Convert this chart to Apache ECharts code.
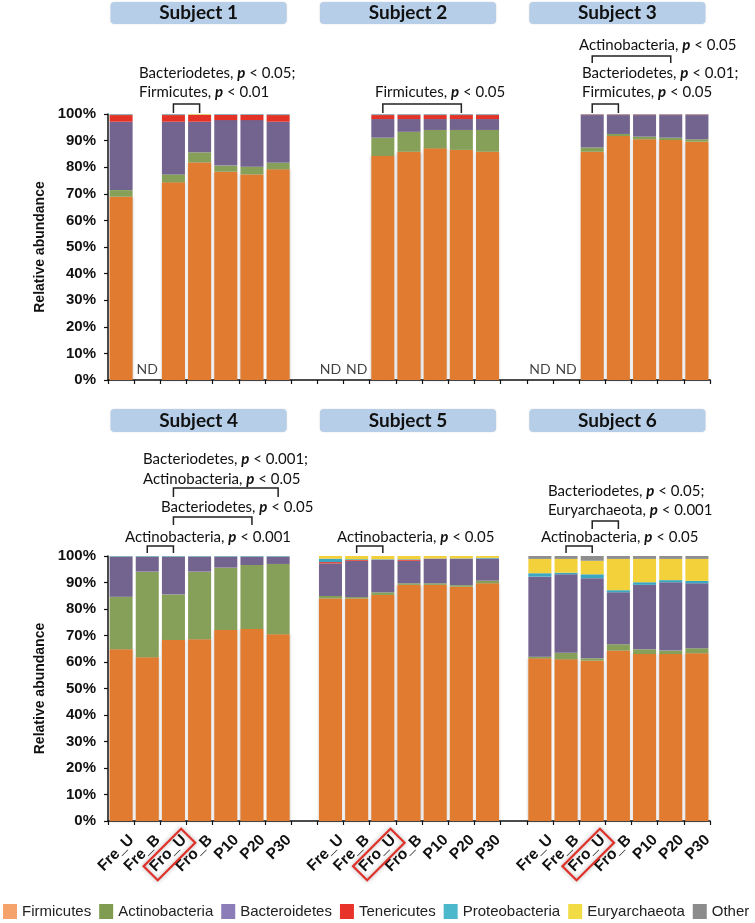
<!DOCTYPE html>
<html><head><meta charset="utf-8">
<script src="https://cdn.jsdelivr.net/npm/echarts@6/dist/echarts.min.js"></script>
<style>html,body{margin:0;padding:0;background:#fff}#c{width:755px;height:923px}</style>
</head><body><div id="c"></div>
<script>
// ---------- DATA ----------
const categories = ['Fre_U','Fre_B','Fro_U','Fro_B','P10','P20','P30','',
                    'Fre_U','Fre_B','Fro_U','Fro_B','P10','P20','P30',' ',
                    'Fre_U','Fre_B','Fro_U','Fro_B','P10','P20','P30'];
const phyla = ['Firmicutes','Actinobacteria','Bacteroidetes','Tenericutes','Proteobacteria','Euryarchaeota','Other'];
const yTickLabels = ['0%','10%','20%','30%','40%','50%','60%','70%','80%','90%','100%'];
const headersTop = ['Subject 1','Subject 2','Subject 3'];
const headersBottom = ['Subject 4','Subject 5','Subject 6'];
const highlightLabel = 'Fro_U';

// Subjects 1-3 (top panel); null = not determined / spacer
const topFirmicutes     = [68.9,null,74.3,81.8,78.3,77.3,79.2, null, null,null,84.2,85.8,87.1,86.5,85.8, null, null,null,85.8,91.7,90.5,90.2,89.6];
const topActinobacteria = [2.5, null,3.0, 3.8, 2.3, 2.9, 2.5,  null, null,null,6.9, 7.5, 6.9, 7.5, 8.2,  null, null,null,1.6, 0.8, 1.0, 0.9, 0.9];
const topBacteroidetes  = [25.7,null,19.8,11.5,17.1,17.5,15.4, null, null,null,7.0, 4.8, 4.1, 4.1, 4.1,  null, null,null,12.2,7.1, 8.1, 8.5, 9.1];
const topTenericutes    = [2.5, null,2.5, 2.6, 2.0, 2.0, 2.5,  null, null,null,1.5, 1.5, 1.5, 1.5, 1.5,  null, null,null,0.2, 0.2, 0.2, 0.2, 0.2];
const topProteobacteria = [0.2, null,0.2, 0.1, 0.2, 0.2, 0.2,  null, null,null,0.2, 0.2, 0.2, 0.2, 0.2,  null, null,null,0.1, 0.1, 0.1, 0.1, 0.1];
const topEuryarchaeota  = [0,   null,0,   0.3, 0,   0,   0,    null, null,null,0,   0,   0,   0,   0,    null, null,null,0,   0,   0,   0,   0];
const topOther          = [0.2, null,0.2, 0,   0.1, 0.1, 0.2,  null, null,null,0.2, 0.2, 0.2, 0.2, 0.2,  null, null,null,0.1, 0.1, 0.1, 0.1, 0.1];
const topND             = ['','ND','','','','','', '', 'ND','ND','','','','','', '', 'ND','ND','','','','',''];

// Subjects 4-6 (bottom panel)
const botFirmicutes     = [64.8,61.8,68.3,68.6,72.1,72.5,70.5, null, 84.0,84.0,85.3,89.1,89.1,88.4,89.7, null, 61.4,61.0,60.5,64.3,63.0,63.0,63.3];
const botActinobacteria = [19.8,32.3,17.2,25.5,23.5,24.1,26.5, null, 0.9, 0.5, 1.0, 0.6, 0.6, 0.6, 1.0,  null, 0.6, 2.5, 0.9, 2.4, 1.8, 1.3, 1.9];
const botBacteroidetes  = [15.1,5.6, 14.2,5.6, 4.1, 3.1, 2.7,  null, 12.3,13.7,12.2,8.5, 9.2, 10.0,8.2,  null, 30.2,29.6,30.2,19.6,24.3,25.8,24.5];
const botTenericutes    = [0,   0,   0,   0,   0,   0,   0,    null, 0.5, 0.3, 0.1, 0.4, 0.1, 0,   0.1,  null, 0,   0,   0,   0,   0,   0,   0];
const botProteobacteria = [0.2, 0.2, 0.2, 0.2, 0.2, 0.2, 0.2,  null, 1.3, 0.3, 0.2, 0.2, 0.1, 0.1, 0.3,  null, 1.3, 0.6, 1.5, 0.8, 1.0, 0.8, 0.9];
const botEuryarchaeota  = [0,   0,   0,   0,   0,   0,   0,    null, 1.0, 1.2, 1.2, 1.2, 0.9, 0.9, 0.7,  null, 5.4, 5.2, 5.1, 11.8,8.8, 8.0, 8.3];
const botOther          = [0.1, 0.1, 0.1, 0.1, 0.1, 0.1, 0.1,  null, 0,   0,   0,   0,   0,   0,   0,    null, 1.1, 1.1, 1.8, 1.1, 1.1, 1.1, 1.1];

// significance annotations
const annotTop = [
  {x:139, y:73, t:'Bacteriodetes, {p|p} < 0.05;'},
  {x:139, y:92, t:'Firmicutes, {p|p} < 0.01'},
  {x:375, y:92, t:'Firmicutes, {p|p} < 0.05'},
  {x:579, y:45, t:'Actinobacteria, {p|p} < 0.05'},
  {x:582, y:73, t:'Bacteriodetes, {p|p} < 0.01;'},
  {x:582, y:92, t:'Firmicutes, {p|p} < 0.05'}
];
const annotBottom = [
  {x:143, y:459, t:'Bacteriodetes, {p|p} < 0.001;'},
  {x:143, y:479, t:'Actinobacteria, {p|p} < 0.05'},
  {x:161, y:507, t:'Bacteriodetes, {p|p} < 0.05'},
  {x:125, y:537, t:'Actinobacteria, {p|p} < 0.001'},
  {x:337, y:537, t:'Actinobacteria, {p|p} < 0.05'},
  {x:548, y:491, t:'Bacteriodetes, {p|p} < 0.05;'},
  {x:548, y:510, t:'Euryarchaeota, {p|p} < 0.001'},
  {x:541, y:537, t:'Actinobacteria, {p|p} < 0.05'}
];
const bracketsTop = [ {a:2,b:3,y1:104,y2:113}, {a:10,b:13,y1:104,y2:113}, {a:18,b:21,y1:56,y2:63}, {a:18,b:19,y1:104,y2:113} ];
const bracketsBottom = [ {a:2,b:6,y1:488,y2:497}, {a:2,b:5,y1:517,y2:525}, {a:1,b:2,y1:546,y2:553},
                         {a:9,b:10,y1:546,y2:553}, {a:18,b:19,y1:521,y2:529}, {a:17,b:18,y1:546,y2:553} ];

// ---------- STYLE ----------
const barColors = ['#E07B2F','#86A05A','#72638F','#E53226','#3BA6C2','#F2D13B','#8E8E8E'];
const legendColors = ['#F5A36B','#7F9C50','#8C7DB8','#E8332A','#4BB8CB','#F2DC45','#8C8C8C'];
const topData = [topFirmicutes, topActinobacteria, topBacteroidetes, topTenericutes, topProteobacteria, topEuryarchaeota, topOther];
const botData = [botFirmicutes, botActinobacteria, botBacteroidetes, botTenericutes, botProteobacteria, botEuryarchaeota, botOther];

const chart = echarts.init(document.getElementById('c'), null, {renderer:'canvas'});
const AX = '#111';
const SANS = 'Liberation Sans, Arial, sans-serif';
function yAxisDef(gi){
  return {
    type:'value', gridIndex:gi, min:0, max:100, interval:10,
    name:'Relative abundance', nameLocation:'middle', nameGap:57,
    nameTextStyle:{fontFamily:SANS, fontWeight:'bold', fontSize:14, color:'#111'},
    axisLine:{show:true, lineStyle:{color:AX, width:1.5}},
    axisTick:{show:true, length:4, lineStyle:{color:AX, width:1.2}},
    splitLine:{show:false},
    axisLabel:{margin:12, color:'#111', fontFamily:SANS, fontWeight:'bold', fontSize:15,
      formatter:(v)=> yTickLabels[Math.round(v/10)]}
  };
}
function xAxisDef(gi, showLabels){
  return {
    type:'category', gridIndex:gi, data:categories,
    axisLine:{show:true, lineStyle:{color:AX, width:1.5}},
    axisTick:{show:true, interval:0, length:4, lineStyle:{color:AX, width:1.2}},
    axisLabel: showLabels ? {show:true, interval:0, rotate:45, margin:6,
      verticalAlign:'top', lineHeight:30,
      color:'#111', fontFamily:SANS, fontWeight:'bold', fontSize:15.5} : {show:false}
  };
}
const series = [];
function barSeries(n, i, gi, data){
  const st = {color:barColors[i]};
  if (i === 0) { st.shadowBlur = 3; st.shadowColor = 'rgba(0,0,0,0.3)'; }
  return {name:n, type:'bar', stack: gi ? 'bot' : 'top', xAxisIndex:gi, yAxisIndex:gi, data,
    barCategoryGap:'12%', itemStyle:st, silent:true, animation:false};
}
phyla.forEach((n,i)=> series.push(barSeries(n, i, 0, topData[i])));
phyla.forEach((n,i)=> series.push(barSeries(n, i, 1, botData[i])));
series.push({name:'ND', type:'scatter', xAxisIndex:0, yAxisIndex:0, symbolSize:1,
  itemStyle:{color:'rgba(0,0,0,0)'}, silent:true, animation:false,
  data: topND.map(s => s ? 0 : '-'),
  label:{show:true, position:'top', distance:3, formatter:(p)=>topND[p.dataIndex],
    fontFamily:'Lato, sans-serif', fontSize:14, color:'#111'}});

const option = {
  backgroundColor:'#fff',
  animation:false,
  grid:[{left:108, top:114, width:602, height:266}, {left:108, top:556, width:602, height:265}],
  xAxis:[xAxisDef(0,false), xAxisDef(1,true)],
  yAxis:[yAxisDef(0), yAxisDef(1)],
  legend:{left:3, top:904, itemWidth:14, itemHeight:15, itemGap:8, icon:'rect', padding:0,
    textStyle:{fontFamily:SANS, fontSize:15, color:'#222'},
    data: phyla.map((n,i)=>({name:n, itemStyle:{color:legendColors[i]}}))},
  series
};
chart.setOption(option);

// ---------- ANNOTATIONS ----------
const X = (g,c)=> chart.convertToPixel({xAxisIndex:g}, c);
const bw = X(0,1) - X(0,0);
const graphics = [];
const groups = [[0,6],[8,14],[16,22]];
function header(g, txt, gi, y1, y2){
  const x1 = X(gi, groups[g][0]) - bw/2 + 2.5;
  const x2 = X(gi, groups[g][1]) + bw/2 - 4.5;
  graphics.push({type:'rect', shape:{x:x1, y:y1, width:x2-x1, height:y2-y1, r:4},
    style:{fill:'#B6CEE7', shadowBlur:2, shadowColor:'rgba(0,0,0,0.12)'}, z:10});
  graphics.push({type:'text', x:(x1+x2)/2, y:(y1+y2)/2, z:11,
    style:{text:txt, align:'center', verticalAlign:'middle', fill:'#111',
      font:'bold 19px Lato, sans-serif'}});
}
headersTop.forEach((t,g)=>header(g,t,0,2,24));
headersBottom.forEach((t,g)=>header(g,t,1,409,432));
const rich = {p:{fontFamily:'Lato, sans-serif', fontSize:15, fontWeight:'bold', fontStyle:'italic', fill:'#111'}};
annotTop.concat(annotBottom).forEach(a=>{
  graphics.push({type:'text', x:a.x, y:a.y, z:11,
    style:{text:a.t, align:'left', verticalAlign:'middle', fill:'#111',
      fontFamily:'Lato, sans-serif', fontSize:15, rich}});
});
function bracket(gi, b){
  const xa = X(gi,b.a), xb = X(gi,b.b);
  graphics.push({type:'polyline', z:11, shape:{points:[[xa,b.y2],[xa,b.y1],[xb,b.y1],[xb,b.y2]]},
    style:{stroke:'#222', lineWidth:1.5, fill:null}});
}
bracketsTop.forEach(b=>bracket(0,b));
bracketsBottom.forEach(b=>bracket(1,b));
// red boxes around highlighted labels on the bottom axis
const axisY = chart.convertToPixel({yAxisIndex:1}, 0);
categories.forEach((c,i)=>{
  if (c === highlightLabel) {
    const cx = X(1,i) - 4, cy = axisY + 33.5;
    graphics.push({type:'rect', x:cx, y:cy, rotation:Math.PI/4, z:12,
      shape:{x:-26.5, y:-10, width:53, height:20},
      style:{fill:null, stroke:'#E0302A', lineWidth:2.2, shadowBlur:4, shadowColor:'rgba(0,0,0,0.35)'}});
  }
});
chart.setOption({graphic:graphics});
</script></body></html>
